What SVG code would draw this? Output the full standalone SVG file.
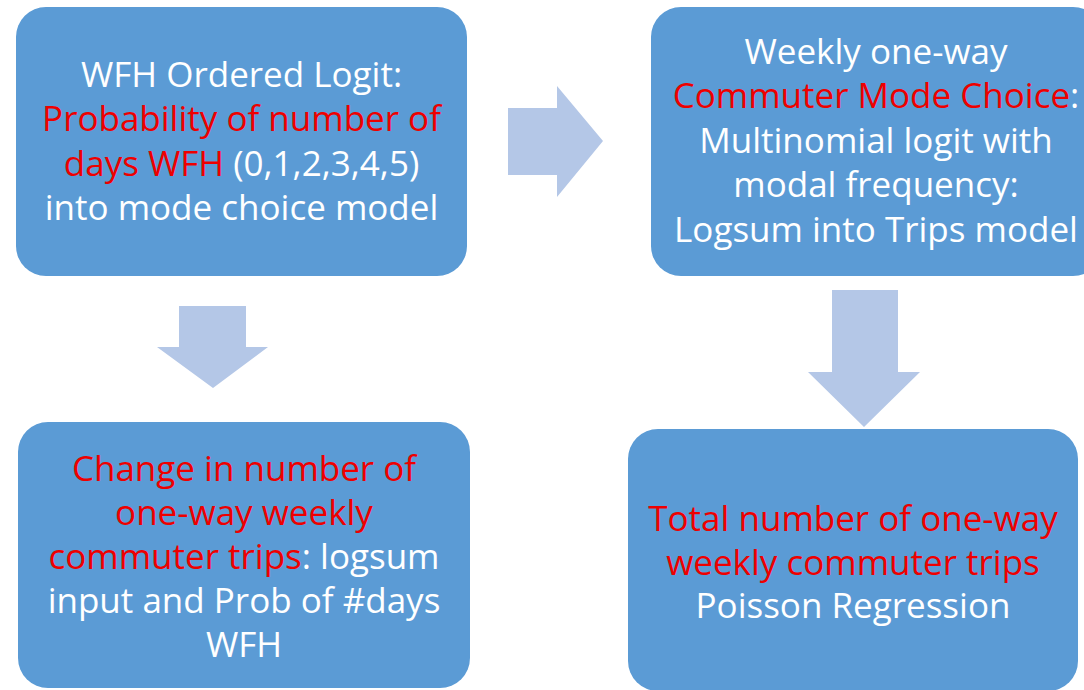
<svg xmlns="http://www.w3.org/2000/svg" width="1084" height="690" viewBox="0 0 1084 690">
<style>
.box{fill:#5B9BD5;}
.arr{fill:#B4C7E7;}
text{font-family:"Open Sans","Noto Sans",sans-serif;font-size:35px;fill:#FFFFFF;text-anchor:middle;}
.r{fill:#EE0000;}
</style>
<rect width="1084" height="690" fill="#FFFFFF"/>
<g id="connectors">
<polygon class="arr" points="508,108 557,108 557,86 603,141 557,197 557,175 508,175"/>
<polygon class="arr" points="179,306 246,306 246,347 268,347 213,388 157,347 179,347"/>
<polygon class="arr" points="832,290 898,290 898,372 920,372 864,427 808,372 832,372"/>
</g>
<g id="node-wfh">
<rect class="box" x="16" y="7" width="451" height="269" rx="30"/>
<text x="241.5" y="87">WFH Ordered Logit:</text>
<text x="241.5" y="131" class="r">Probability of number of</text>
<text x="241.5" y="176"><tspan class="r">days WFH</tspan> (0,1,2,3,4,5)</text>
<text x="241.5" y="220">into mode choice model</text>
</g>
<g id="node-mode">
<rect class="box" x="651" y="7" width="452" height="269" rx="30"/>
<text x="876" y="64">Weekly one-way</text>
<text x="876" y="108"><tspan class="r">Commuter Mode Choice</tspan>:</text>
<text x="876" y="153">Multinomial logit with</text>
<text x="876" y="197">modal frequency:</text>
<text x="876" y="242">Logsum into Trips model</text>
</g>
<g id="node-change">
<rect class="box" x="18" y="422" width="452" height="266" rx="30"/>
<text x="244" y="481" class="r">Change in number of</text>
<text x="244" y="525" class="r">one-way weekly</text>
<text x="244" y="569"><tspan class="r">commuter trips</tspan>: logsum</text>
<text x="244" y="613">input and Prob of #days</text>
<text x="244" y="657">WFH</text>
</g>
<g id="node-total">
<rect class="box" x="628" y="429" width="450" height="262" rx="30"/>
<text x="853" y="531" class="r">Total number of one-way</text>
<text x="853" y="575" class="r">weekly commuter trips</text>
<text x="853" y="618">Poisson Regression</text>
</g>
</svg>
